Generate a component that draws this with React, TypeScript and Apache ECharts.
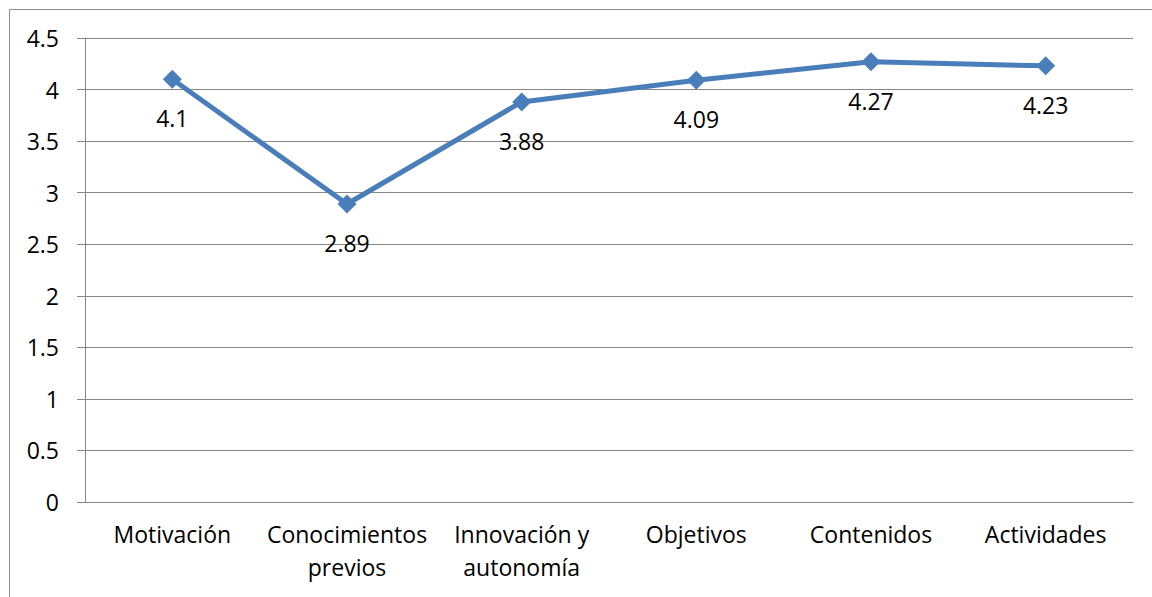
import React, { useEffect, useRef } from "react";
import * as echarts from "echarts";

// Dimension names shown along the category axis
const categories: string[] = [
  "Motivación",
  "Conocimientos\nprevios",
  "Innovación y\nautonomía",
  "Objetivos",
  "Contenidos",
  "Actividades",
];

// Mean score per dimension
const scores: number[] = [4.1, 2.89, 3.88, 4.09, 4.27, 4.23];

// Value axis range and step
const yMin = 0;
const yMax = 4.5;
const yStep = 0.5;

const FONT = "'Open Sans', 'Liberation Sans', sans-serif";
const GRID_GRAY = "#868686";
const LINE_BLUE = "#4A7EBB";

export default function App() {
  const ref = useRef<HTMLDivElement>(null);

  useEffect(() => {
    document.body.style.margin = "0";
    if (!ref.current) return;
    const chart = echarts.init(ref.current, undefined, { renderer: "svg" });

    chart.setOption({
      animation: false,
      backgroundColor: "#ffffff",
      textStyle: { fontFamily: FONT },
      grid: { left: 85, right: 19, top: 38, bottom: 95, containLabel: false },
      graphic: [
        {
          type: "rect",
          silent: true,
          shape: { x: 9.5, y: 9.5, width: 1200, height: 700 },
          style: { fill: "none", stroke: "#8c8c8c", lineWidth: 1 },
        },
      ],
      xAxis: {
        type: "category",
        data: categories,
        boundaryGap: true,
        axisLine: { show: true, lineStyle: { color: GRID_GRAY, width: 1 } },
        axisTick: { show: false },
        axisLabel: {
          color: "#000",
          fontFamily: FONT,
          fontSize: 23,
          lineHeight: 33,
          margin: 15,
          interval: 0,
        },
        splitLine: { show: false },
      },
      yAxis: {
        type: "value",
        min: yMin,
        max: yMax,
        interval: yStep,
        axisLine: { show: true, lineStyle: { color: GRID_GRAY, width: 1 } },
        axisTick: {
          show: true,
          length: 8,
          lineStyle: { color: GRID_GRAY, width: 1 },
        },
        axisLabel: {
          color: "#000",
          fontFamily: FONT,
          fontSize: 23,
          margin: 26,
        },
        splitLine: { show: true, lineStyle: { color: GRID_GRAY, width: 1 } },
      },
      series: [
        {
          type: "line",
          data: scores,
          symbol: "diamond",
          symbolSize: 19,
          lineStyle: { color: LINE_BLUE, width: 5 },
          itemStyle: { color: LINE_BLUE, borderWidth: 0 },
          label: {
            show: true,
            position: "bottom",
            distance: 18,
            color: "#000",
            fontFamily: FONT,
            fontSize: 23,
            formatter: (p: any) => String(p.value),
          },
        },
      ],
    });

    return () => chart.dispose();
  }, []);

  return (
    <div
      ref={ref}
      style={{ position: "absolute", left: 0, top: 0, width: 1152, height: 597 }}
    />
  );
}
